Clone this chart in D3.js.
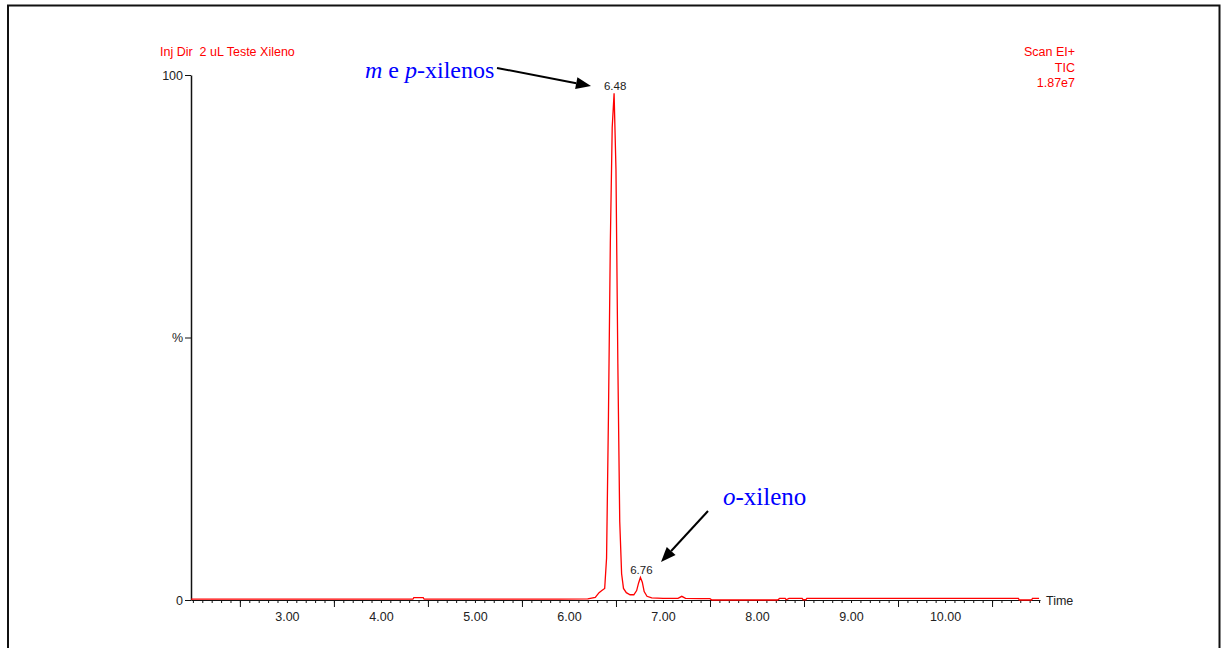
<!DOCTYPE html>
<html>
<head>
<meta charset="utf-8">
<script src="https://cdn.jsdelivr.net/npm/d3@7"></script>
<style>
  body { margin: 0; background: #fff; }
  svg { display: block; }
  text { white-space: pre; }
  .tick text { font-family: "Liberation Sans", Arial, sans-serif; font-size: 12.5px; fill: #222; }
</style>
</head>
<body>
<div id="chart"></div>
<script>
// retention time (min) and TIC intensity (% of full scale)
const rtTimes = [1.98, 2.60, 3.20, 4.34, 4.35, 4.45, 4.46, 5.20, 5.90, 6.20, 6.28, 6.32, 6.35, 6.38, 6.40,
  6.42, 6.44, 6.46, 6.48, 6.50, 6.52, 6.54, 6.56, 6.58, 6.61, 6.65, 6.69, 6.72, 6.74, 6.76, 6.78, 6.80,
  6.83, 6.88, 7.00, 7.16, 7.20, 7.24, 7.40, 7.50, 7.52, 8.00, 8.22, 8.24, 8.30, 8.31, 8.34, 8.48, 8.49,
  8.52, 8.53, 9.20, 10.00, 10.78, 10.79, 10.92, 10.93, 11.00];
const ticPct = [0.15, 0.15, 0.15, 0.15, 0.45, 0.45, 0.15, 0.15, 0.15, 0.2, 0.5, 1.4, 1.8, 2.2, 8,
  35, 68, 90, 96.5, 82, 45, 15, 5, 2.2, 1.4, 1.0, 1.0, 1.8, 3.2, 4.3, 3.4, 1.6,
  0.7, 0.4, 0.3, 0.3, 0.7, 0.3, 0.25, 0.25, 0.0, 0.0, 0.0, 0.3, 0.3, 0.05, 0.3, 0.3, 0.05,
  0.05, 0.3, 0.3, 0.3, 0.3, 0.0, 0.0, 0.3, 0.3];

const xLabelValues = [3, 4, 5, 6, 7, 8, 9, 10];
const xHalfTicks = [2.5, 3.5, 4.5, 5.5, 6.5, 7.5, 8.5, 9.5, 10.5];
const xMinorTicks = d3.range(20, 111).map(d => d / 10);
const yTickValues = [0, 50, 100];
const yTickLabels = ["0", "%", "100"];

const peakTimes = [6.48, 6.76];
const peakHeights = [96.5, 4.3];

const headerLeft = "Inj Dir  2 uL Teste Xileno";
const headerRight = ["Scan EI+", "TIC", "1.87e7"];

const width = 1221, height = 648;
const svg = d3.select("#chart").append("svg")
  .attr("width", width)
  .attr("height", height);

// outer frame
svg.append("rect")
  .attr("x", 8).attr("y", 5.5)
  .attr("width", 1211.5).attr("height", 700)
  .attr("fill", "none")
  .attr("stroke", "#111")
  .attr("stroke-width", 2);

const x = d3.scaleLinear().domain([1.98, 11.01]).range([191, 1040]);
const y = d3.scaleLinear().domain([0, 100]).range([600, 75]);

// x axis: minor ticks, half ticks, labels
svg.append("g")
  .attr("transform", "translate(0,600)")
  .call(d3.axisBottom(x).tickValues(xMinorTicks).tickSize(3).tickSizeOuter(0).tickFormat(""))
  .call(g => g.select(".domain").attr("stroke", "#111"));

svg.append("g")
  .attr("transform", "translate(0,600)")
  .call(d3.axisBottom(x).tickValues(xHalfTicks).tickSize(7).tickFormat(""))
  .call(g => g.select(".domain").remove());

svg.append("g")
  .attr("transform", "translate(0,600)")
  .call(d3.axisBottom(x).tickValues(xLabelValues).tickSize(0).tickPadding(12).tickFormat(d3.format(".2f")))
  .call(g => g.select(".domain").remove());

svg.selectAll(".tick line").attr("stroke", "#111");

svg.append("text")
  .attr("x", 1046).attr("y", 605)
  .attr("font-family", "Liberation Sans, Arial, sans-serif")
  .attr("font-size", 12.5)
  .attr("fill", "#222")
  .text("Time");

// y axis
svg.append("g")
  .attr("transform", "translate(191,0)")
  .call(d3.axisLeft(y).tickValues(yTickValues).tickSize(6).tickSizeOuter(0).tickPadding(2)
    .tickFormat((d, i) => yTickLabels[i]))
  .call(g => g.select(".domain").attr("stroke", "#111").attr("stroke-width", 1.5))
  .call(g => g.selectAll(".tick line").attr("stroke", "#111"));

// chromatogram trace
const line = d3.line()
  .x((d, i) => x(rtTimes[i]))
  .y(d => y(d));

svg.append("path")
  .datum(ticPct)
  .attr("d", line)
  .attr("fill", "none")
  .attr("stroke", "#ff0000")
  .attr("stroke-width", 1.3);

// peak labels
svg.selectAll(".peak-label")
  .data(peakTimes)
  .enter().append("text")
  .attr("class", "peak-label")
  .attr("x", d => x(d) + 1)
  .attr("y", (d, i) => y(peakHeights[i]) - 3)
  .attr("text-anchor", "middle")
  .attr("font-family", "Liberation Sans, Arial, sans-serif")
  .attr("font-size", 11.5)
  .attr("fill", "#222")
  .text(d => d.toFixed(2));

// header texts
svg.append("text")
  .attr("x", 160).attr("y", 56)
  .attr("font-family", "Liberation Sans, Arial, sans-serif")
  .attr("font-size", 12.5)
  .attr("fill", "#ff0000")
  .text(headerLeft);

svg.selectAll(".hdr-right")
  .data(headerRight)
  .enter().append("text")
  .attr("class", "hdr-right")
  .attr("x", 1075)
  .attr("y", (d, i) => 56 + i * 15.5)
  .attr("text-anchor", "end")
  .attr("font-family", "Liberation Sans, Arial, sans-serif")
  .attr("font-size", 12.5)
  .attr("fill", "#ff0000")
  .text(d => d);

// annotations
function arrow(x1, y1, x2, y2) {
  const ang = Math.atan2(y2 - y1, x2 - x1);
  const len = 15, half = 6;
  const bx = x2 - len * Math.cos(ang), by = y2 - len * Math.sin(ang);
  svg.append("line")
    .attr("x1", x1).attr("y1", y1).attr("x2", bx).attr("y2", by)
    .attr("stroke", "#000").attr("stroke-width", 2);
  svg.append("path")
    .attr("d", `M${x2},${y2}L${bx + half * Math.sin(ang)},${by - half * Math.cos(ang)}L${bx - half * Math.sin(ang)},${by + half * Math.cos(ang)}Z`)
    .attr("fill", "#000");
}

const ann1 = svg.append("text")
  .attr("x", 365).attr("y", 78)
  .attr("font-family", "Liberation Serif, Times New Roman, serif")
  .attr("font-size", 24)
  .attr("fill", "#0000ff");
ann1.append("tspan").attr("font-style", "italic").text("m");
ann1.append("tspan").text(" e ");
ann1.append("tspan").attr("font-style", "italic").text("p");
ann1.append("tspan").text("-xilenos");
arrow(497, 68, 591, 86);

const ann2 = svg.append("text")
  .attr("x", 723).attr("y", 505)
  .attr("font-family", "Liberation Serif, Times New Roman, serif")
  .attr("font-size", 25)
  .attr("fill", "#0000ff");
ann2.append("tspan").attr("font-style", "italic").text("o");
ann2.append("tspan").text("-xileno");
arrow(708, 511, 661, 562);
</script>
</body>
</html>
